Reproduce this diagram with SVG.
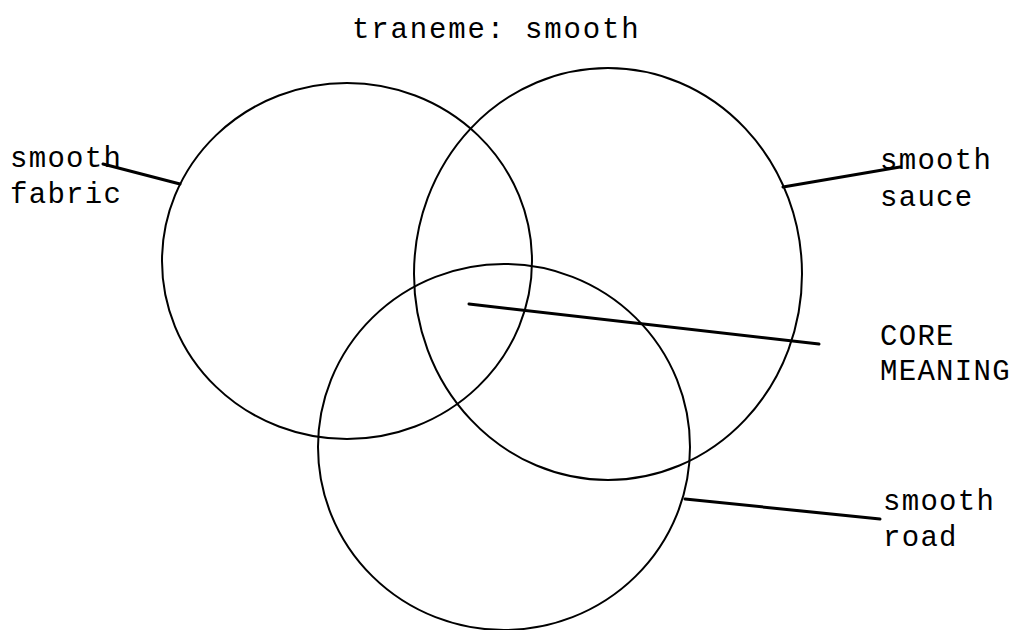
<svg xmlns="http://www.w3.org/2000/svg" width="1020" height="630" viewBox="0 0 1020 630">
<style>
.c{fill:none;stroke:#000;stroke-width:2}
.l{stroke:#000;stroke-width:3;stroke-linecap:round}
text{font-family:"Liberation Mono","Courier New",monospace;font-size:29px;fill:#000;letter-spacing:1.3px}
</style>
<rect width="1020" height="630" fill="#fff"/>
<text x="352" y="38" textLength="288">traneme: smooth</text>
<g id="fabric">
<ellipse class="c" cx="347" cy="261" rx="185" ry="178"/>
<text x="10" y="167">smooth</text>
<text x="10" y="203">fabric</text>
</g>
<g id="sauce">
<ellipse class="c" cx="608" cy="274" rx="194" ry="206"/>
<text x="880" y="169">smooth</text>
<text x="880" y="206">sauce</text>
</g>
<g id="road">
<ellipse class="c" cx="504" cy="447" rx="186" ry="183"/>
<text x="883" y="510">smooth</text>
<text x="883" y="546">road</text>
</g>
<g id="core">
<text x="880" y="345">CORE</text>
<text x="880" y="380">MEANING</text>
</g>
<g id="connectors">
<line class="l" x1="103" y1="164" x2="180" y2="184"/>
<line class="l" x1="783" y1="187" x2="900" y2="167"/>
<line class="l" x1="469" y1="304" x2="819" y2="344"/>
<line class="l" x1="685" y1="499" x2="880" y2="519"/>
</g>
</svg>
